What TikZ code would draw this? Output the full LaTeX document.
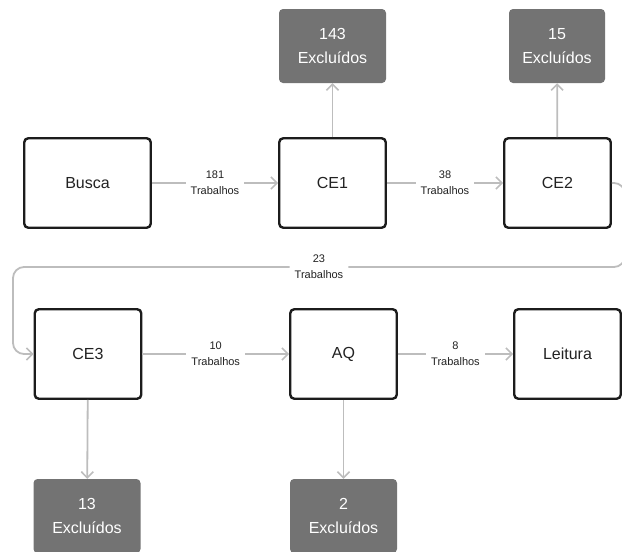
\documentclass[tikz,border=0pt]{standalone}
\usepackage{fontspec}
\setmainfont{Liberation Sans}
\usetikzlibrary{arrows.meta}

\definecolor{linha}{HTML}{BDBDBD}
\definecolor{caixa}{HTML}{737373}
\definecolor{borda}{HTML}{1C1C1C}
\definecolor{texto}{HTML}{222222}

\tikzset{
	etapa/.style={draw=borda, line width=2.4pt, rounded corners=4pt, fill=white,
		minimum width=106.5pt, minimum height=89.5pt, text=texto,
		font=\fontsize{16}{19}\selectfont},
	excluidos/.style={fill=caixa, rounded corners=4pt, minimum width=107pt,
		minimum height=74pt, align=center, text=white,
		font=\fontsize{16}{24}\selectfont},
	fluxo/.style={draw=linha, line width=1.8pt,
		-{Straight Barb[length=6pt,width=12pt,line width=1.6pt]}},
	rotulo/.style={fill=white, align=center, text=texto, inner xsep=5pt,
		font=\fontsize{11}{16}\selectfont},
}

\begin{document}
\begin{tikzpicture}[x=1pt, y=-1pt]
			\useasboundingbox (0,0) rectangle (622,552);

			% Etapas
			\node[etapa, minimum width=126.5pt] (busca) at (87.5,183) {Busca};
			\node[etapa] (ce1) at (332.5,183) {CE1};
			\node[etapa] (ce2) at (557.5,183) {CE2};
			\node[etapa] (ce3) at (88,354) {CE3};
			\node[etapa] (aq) at (343.5,354) {AQ};
			\node[etapa] (leitura) at (567.5,354) {Leitura};

			% Excluidos
			\node[excluidos] (exc143) at (332.5,46) {143\\Excluídos};
			\node[excluidos, minimum width=96pt] (exc15) at (557,46) {15\\Excluídos};
			\node[excluidos] (exc13) at (87,516) {13\\Excluídos};
			\node[excluidos] (exc2) at (343.5,516) {2\\Excluídos};

			\coordinate (volta1) at (625,267);
			\coordinate (volta2) at (13,267);

			\draw[fluxo] (busca) -- node[rotulo] {181\\Trabalhos} (ce1);
			\draw[fluxo] (ce1) -- node[rotulo] {38\\Trabalhos} (ce2);
			\draw[fluxo, rounded corners=11pt] (ce2.east) -| (volta1) -- node[rotulo] {23\\Trabalhos} (volta2) |- (ce3.west);
			\draw[fluxo] (ce3) -- node[rotulo] {10\\Trabalhos} (aq);
			\draw[fluxo] (aq) -- node[rotulo] {8\\Trabalhos} (leitura);

			\draw[fluxo] (ce1) -- (exc143);
			\draw[fluxo] (ce2) -- (exc15);
			\draw[fluxo] (ce3) -- (exc13);
			\draw[fluxo] (aq) -- (exc2);
		\end{tikzpicture}
\end{document}
